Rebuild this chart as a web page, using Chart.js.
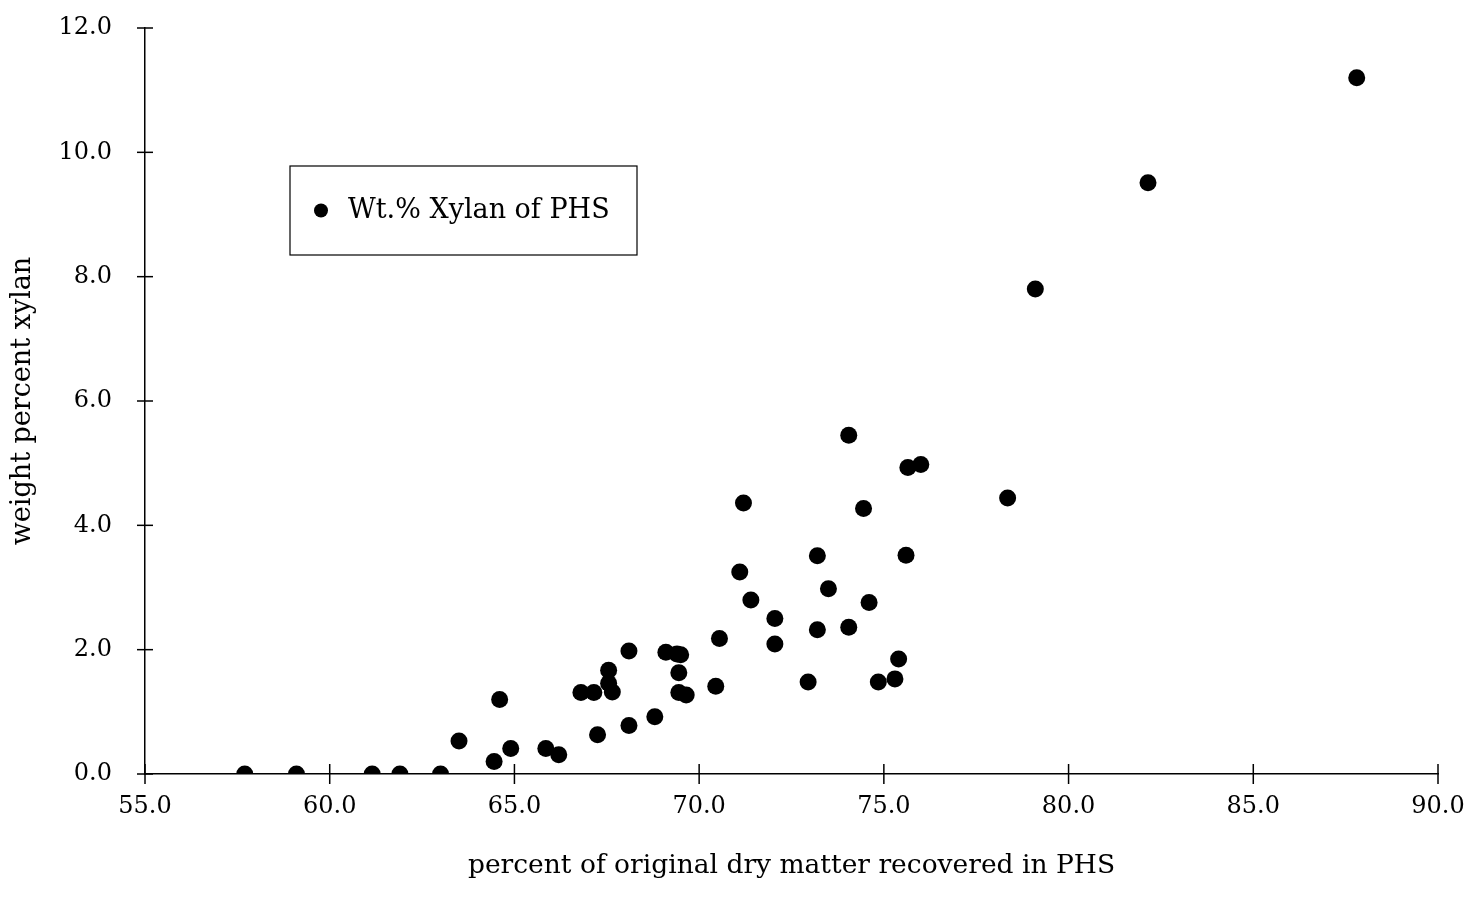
<!DOCTYPE html>
<html>
<head>
<meta charset="utf-8">
<script src="https://cdn.jsdelivr.net/npm/chart.js@4.4.1/dist/chart.umd.min.js"></script>
<style>
  html, body { margin: 0; padding: 0; background: #fff; }
  #wrap { width: 1472px; height: 910px; }
</style>
</head>
<body>
<div id="wrap"><canvas id="xylanChart" width="1472" height="910"></canvas></div>
<script>
// Data
const dryMatter = [
  57.7, 59.1, 61.15, 61.9, 63.0, 63.5, 64.45, 64.6, 64.9, 65.85, 66.2,
  66.8, 67.15, 67.25, 67.55, 67.55, 67.65, 68.1, 68.1, 68.8, 69.1,
  69.4, 69.5, 69.45, 69.45, 69.65, 70.45, 70.55,
  71.1, 71.2, 71.4, 72.05, 72.05, 72.95, 73.2, 73.2, 73.5,
  74.05, 74.05, 74.45, 74.6, 74.85, 75.3, 75.4, 75.6, 75.65, 76.0,
  78.35, 79.1, 82.15, 87.8
];
const xylanPct = [
  0.0, 0.0, 0.0, 0.0, 0.0, 0.53, 0.2, 1.2, 0.41, 0.41, 0.31,
  1.31, 1.31, 0.63, 1.67, 1.46, 1.32, 1.98, 0.78, 0.92, 1.96,
  1.93, 1.92, 1.63, 1.31, 1.27, 1.41, 2.18,
  3.25, 4.36, 2.8, 2.5, 2.09, 1.48, 3.51, 2.32, 2.98,
  5.45, 2.36, 4.27, 2.76, 1.48, 1.53, 1.85, 3.52, 4.93, 4.98,
  4.44, 7.8, 9.51, 11.2
];
const xTicks = [55, 60, 65, 70, 75, 80, 85, 90];
const yTicks = [0, 2, 4, 6, 8, 10, 12];
const seriesLabel = 'Wt.% Xylan of PHS';
const xTitle = 'percent of original dry matter recovered in PHS';
const yTitle = 'weight percent xylan';

const FONT = 'DejaVu Serif';

// ticks that cross the axis line on both sides
const crossTicks = {
  id: 'crossTicks',
  afterDraw(chart) {
    const { ctx, scales: { x, y } } = chart;
    ctx.save();
    ctx.strokeStyle = '#000';
    ctx.lineWidth = 1.5;
    xTicks.forEach(v => {
      const px = x.getPixelForValue(v);
      ctx.beginPath();
      ctx.moveTo(px, y.bottom - 10);
      ctx.lineTo(px, y.bottom + 10);
      ctx.stroke();
    });
    yTicks.forEach(v => {
      const py = y.getPixelForValue(v);
      ctx.beginPath();
      ctx.moveTo(x.left - 8, py);
      ctx.lineTo(x.left + 8, py);
      ctx.stroke();
    });
    ctx.restore();
  }
};

// boxed legend inside the plot area
const boxLegend = {
  id: 'boxLegend',
  afterDraw(chart) {
    const { ctx, chartArea } = chart;
    const bx = chartArea.left + 145, by = chartArea.top + 138;
    const bw = 347, bh = 89;
    ctx.save();
    ctx.fillStyle = '#fff';
    ctx.fillRect(bx, by, bw, bh);
    ctx.strokeStyle = '#000';
    ctx.lineWidth = 1.2;
    ctx.strokeRect(bx, by, bw, bh);
    ctx.fillStyle = '#000';
    ctx.beginPath();
    ctx.arc(bx + 31, by + bh / 2, 7, 0, Math.PI * 2);
    ctx.fill();
    ctx.font = '27px "' + FONT + '"';
    ctx.textBaseline = 'middle';
    ctx.fillText(chart.data.datasets[0].label, bx + 58, by + bh / 2);
    ctx.restore();
  }
};

new Chart(document.getElementById('xylanChart'), {
  type: 'scatter',
  data: {
    datasets: [{
      label: seriesLabel,
      data: dryMatter.map((v, i) => ({ x: v, y: xylanPct[i] })),
      backgroundColor: '#000',
      borderColor: '#000',
      borderWidth: 0,
      pointRadius: 8.5,
      pointHoverRadius: 8.5
    }]
  },
  options: {
    responsive: false,
    animation: false,
    layout: { padding: { top: 28, right: 34, left: 0, bottom: 0 } },
    plugins: {
      legend: { display: false },
      tooltip: { enabled: false }
    },
    scales: {
      x: {
        type: 'linear',
        min: 55, max: 90,
        afterFit: s => { s.height = 136; s.paddingLeft = 0; s.paddingRight = 0; },
        afterBuildTicks: s => { s.ticks = xTicks.map(v => ({ value: v })); },
        grid: { display: false, drawTicks: false },
        border: { display: true, color: '#000', width: 1.5 },
        ticks: {
          padding: 18,
          color: '#000',
          font: { family: FONT, size: 24 },
          maxRotation: 0,
          callback: v => v.toFixed(1)
        },
        title: {
          display: true,
          text: xTitle,
          color: '#000',
          font: { family: FONT, size: 26.5 },
          padding: { top: 0, bottom: 28 }
        }
      },
      y: {
        type: 'linear',
        min: 0, max: 12,
        afterFit: s => { s.width = 145; s.paddingTop = 0; s.paddingBottom = 0; },
        afterBuildTicks: s => { s.ticks = yTicks.map(v => ({ value: v })); },
        grid: { display: false, drawTicks: false },
        border: { display: true, color: '#000', width: 1.5 },
        ticks: {
          padding: 33,
          color: '#000',
          font: { family: FONT, size: 24 },
          callback: v => v.toFixed(1)
        },
        title: {
          display: true,
          text: yTitle,
          color: '#000',
          font: { family: FONT, size: 27 },
          padding: { top: 7, bottom: 0 }
        }
      }
    }
  },
  plugins: [crossTicks, boxLegend]
});
</script>
</body>
</html>
